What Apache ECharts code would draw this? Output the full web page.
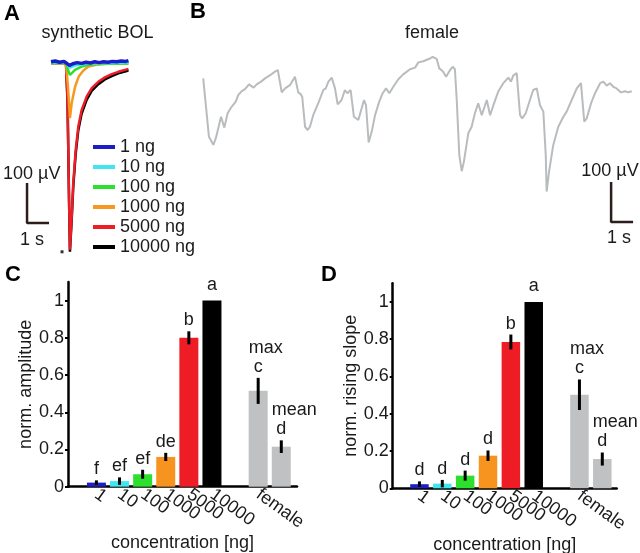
<!DOCTYPE html>
<html><head><meta charset="utf-8">
<script src="https://cdn.jsdelivr.net/npm/echarts@6/dist/echarts.min.js"></script>
<style>html,body{margin:0;padding:0;background:#fff}#c{width:640px;height:553px}</style>
</head><body><div id="c"></div>
<script>
const FONT = '"Liberation Sans", Arial, sans-serif';
const TXT = '#1a1a1a';

// ---------- Panel A: synthetic BOL traces (time s, amplitude µV) ----------
const doseNames = ['1 ng', '10 ng', '100 ng', '1000 ng', '5000 ng', '10000 ng'];
const doseColors = ['#1c1cc8', '#3fe6f0', '#2ee02e', '#f7981f', '#ee1c24', '#000000'];
const trace1ng = [[1.41,3],[1.6,5],[1.8,2],[2.0,4],[2.09,3],[2.25,-6],[2.4,-2],[2.6,1],[2.8,-1],[3.0,2],[3.2,0],[3.4,3],[3.6,1],[3.8,3],[4.0,2],[4.2,4],[4.4,3],[4.6,5],[4.8,4],[4.93,6]];
const trace10ng = [[1.41,2],[2.09,2],[2.25,-12],[2.5,-6],[3.0,-2],[4.0,0],[4.93,1]];
const trace100ng = [[1.41,0],[2.09,0],[2.2,-20],[2.27,-30],[2.5,-17],[2.8,-9],[3.2,-4],[4.0,-2],[4.93,-1]];
const trace1000ng = [[1.41,0],[2.09,0],[2.18,-60],[2.27,-138],[2.35,-100],[2.51,-58],[2.67,-34],[2.88,-19],[3.11,-9],[3.5,-4],[4.0,-2],[4.93,-1]];
const trace5000ng = [[1.41,0],[2.09,0],[2.16,-92],[2.23,-342],[2.27,-467],[2.35,-384],[2.42,-301],[2.53,-218],[2.65,-159],[2.80,-118],[3.03,-84],[3.26,-63],[3.56,-47],[3.86,-36],[4.17,-28],[4.47,-22],[4.85,-16],[4.93,-15]];
const trace10000ng = [[1.41,0],[2.09,0],[2.16,-95],[2.23,-345],[2.27,-472],[2.35,-392],[2.42,-310],[2.53,-228],[2.65,-168],[2.80,-127],[3.03,-92],[3.26,-70],[3.56,-53],[3.86,-41],[4.17,-33],[4.47,-26],[4.85,-20],[4.93,-18]];
const stimulus = [[1.91, -472]];

// ---------- Panel B: female trace ----------
const femaleT = [0.01,0.27,0.36,0.47,0.58,0.82,0.97,1.12,1.30,1.49,1.60,1.76,1.91,2.09,2.18,2.30,2.44,2.64,2.82,3.05,3.27,3.40,3.45,3.58,3.65,3.73,3.95,4.18,4.26,4.33,4.45,4.51,4.64,4.76,4.86,5.01,5.24,5.47,5.58,5.70,5.85,5.92,6.00,6.12,6.30,6.45,6.56,6.71,6.86,6.95,7.06,7.17,7.32,7.41,7.53,7.67,7.82,8.01,8.17,8.32,8.47,8.65,8.88,9.10,9.41,9.64,9.79,10.01,10.29,10.44,10.62,10.74,10.90,11.05,11.23,11.35,11.45,11.53,11.65,11.76,11.86,12.06,12.21,12.36,12.51,12.67,12.90,13.05,13.20,13.42,13.65,13.88,14.00,14.10,14.26,14.33,14.41,14.51,14.67,14.86,15.01,15.17,15.32,15.47,15.58,15.62,15.73,15.92,16.15,16.38,16.53,16.76,16.99,17.18,17.24,17.33,17.44,17.64,17.82,18.05,18.20,18.35,18.50,18.65,18.80,19.00,19.18,19.33,19.49];
const femaleV = [-46,-192,-196,-212,-196,-142,-169,-133,-117,-104,-88,-78,-73,-61,-58,-69,-61,-54,-46,-38,-29,-25,-29,-81,-83,-71,-63,-42,-46,-81,-86,-92,-167,-175,-167,-138,-108,-75,-71,-54,-44,-46,-71,-111,-100,-75,-83,-75,-142,-144,-150,-129,-100,-113,-206,-179,-138,-104,-83,-71,-83,-67,-48,-36,-23,-19,-6,-3,3,8,3,-21,-28,-42,-25,-17,-23,-96,-238,-278,-254,-183,-167,-133,-108,-138,-100,-138,-113,-79,-58,-44,-54,-39,-33,-33,-138,-146,-133,-100,-75,-71,-113,-129,-238,-329,-279,-213,-167,-142,-129,-100,-71,-58,-53,-154,-146,-108,-83,-58,-54,-64,-58,-67,-71,-81,-78,-81,-78];

// scale bars: 1 s x 100 µV
const SCALE_T = 1, SCALE_V = 100;
const scaleA = [0.32, -400];   // corner (time, amplitude)
const scaleB = [18.55, -405];

// ---------- Panels C & D: bars ----------
const barNames = ['1', '10', '100', '1000', '5000', '10000', 'female max', 'female mean'];
const xTickLabels = ['1', '10', '100', '1000', '5000', '10000', 'female'];
const barColors = ['#1f1fbf', '#3fe6f0', '#2ee02e', '#f7941f', '#ee1c24', '#000000', '#bfc1c3', '#bfc1c3'];
const ampValues = [0.022, 0.03, 0.067, 0.16, 0.80, 1.0, 0.515, 0.215];
const ampErrors = [0.012, 0.02, 0.024, 0.022, 0.035, 0, 0.07, 0.034];
const ampLetters = ['f', 'ef', 'ef', 'de', 'b', 'a', 'c', 'd'];
const slopeValues = [0.022, 0.025, 0.068, 0.175, 0.785, 1.0, 0.502, 0.157];
const slopeErrors = [0.015, 0.02, 0.027, 0.028, 0.04, 0, 0.082, 0.035];
const slopeLetters = ['d', 'd', 'd', 'd', 'b', 'a', 'c', 'd'];
const femaleTags = ['', '', '', '', '', '', 'max', 'mean'];
const yTicks = [0, 0.2, 0.4, 0.6, 0.8, 1];

// layout: slot index of each bar along the x axis (gap before female bars)
const slots = [0, 1, 2, 3, 4, 5, 7, 8];
const tickSlots = [0, 1, 2, 3, 4, 5, 7];

const chart = echarts.init(document.getElementById('c'), null, {renderer: 'canvas'});

function barAxisX(idx, min, max) {
  return {
    type: 'value', gridIndex: idx, min: min, max: max,
    axisLine: {show: true, onZero: false, lineStyle: {color: '#000', width: 2.5}},
    axisTick: {show: false},
    splitLine: {show: false},
    axisLabel: {
      customValues: tickSlots, rotate: -36, margin: 6,
      fontSize: 18, fontFamily: FONT, color: TXT,
      formatter: v => xTickLabels[tickSlots.indexOf(Math.round(v))] || ''
    },
    name: 'concentration [ng]', nameLocation: 'middle', nameGap: 47,
    nameTextStyle: {fontSize: 18, fontFamily: FONT, color: TXT}
  };
}
function barAxisY(idx, name, gap) {
  return {
    type: 'value', gridIndex: idx, min: 0, max: 1.1,
    axisLine: {show: true, onZero: false, lineStyle: {color: '#000', width: 2.5}},
    axisTick: {show: true, customValues: yTicks, length: 3, lineStyle: {color: '#000', width: 2}},
    splitLine: {show: false},
    axisLabel: {customValues: yTicks, margin: 4, fontSize: 18, fontFamily: FONT, color: TXT},
    name: name, nameLocation: 'middle', nameGap: gap, nameRotate: 90,
    nameTextStyle: {fontSize: 18, fontFamily: FONT, color: TXT}
  };
}
function barSeries(idx, values, width) {
  return {
    type: 'bar', xAxisIndex: idx, yAxisIndex: idx, barWidth: width,
    data: values.map((v, i) => ({name: barNames[i], value: [slots[i], v], itemStyle: {color: barColors[i]}})),
    silent: true
  };
}
function errSeries(idx, values, errs) {
  return {
    type: 'custom', xAxisIndex: idx, yAxisIndex: idx, silent: true, z: 5, clip: false,
    data: values.map((v, i) => [slots[i], v, errs[i]]),
    renderItem: (params, api) => {
      const x = api.value(0), y = api.value(1), e = api.value(2);
      if (!e) return null;
      const p1 = api.coord([x, y - e]), p2 = api.coord([x, y + e]);
      return {type: 'line', shape: {x1: p1[0], y1: p1[1], x2: p2[0], y2: p2[1]},
              style: {stroke: '#000', lineWidth: 3}};
    }
  };
}
function letterSeries(idx, values, errs, letters) {
  return {
    type: 'custom', xAxisIndex: idx, yAxisIndex: idx, silent: true, z: 6, clip: false,
    data: values.map((v, i) => [slots[i], v, errs[i]]),
    renderItem: (params, api) => {
      const i = params.dataIndex;
      const x = api.value(0), y = api.value(1), e = api.value(2);
      const p = api.coord([x, y + e]);
      const base = p[1] - (e ? 2 : 7);
      const children = [{type: 'text', x: p[0], y: base,
        style: {text: letters[i], fontSize: 18, fontFamily: FONT, fill: TXT, align: 'center', verticalAlign: 'bottom'}}];
      if (femaleTags[i]) {
        children.push({type: 'text', x: p[0] - 9.5, y: base - 19,
          style: {text: femaleTags[i], fontSize: 18, fontFamily: FONT, fill: TXT, align: 'left', verticalAlign: 'bottom'}});
      }
      return {type: 'group', children: children};
    }
  };
}

function traceSeries(name, data, color, width) {
  return {type: 'line', name: name, xAxisIndex: 0, yAxisIndex: 0, data: data, color: color,
          showSymbol: false, symbol: 'none', lineStyle: {color: color, width: width}, silent: true};
}
function scaleSeries(idx, corner) {
  return {type: 'line', xAxisIndex: idx, yAxisIndex: idx, showSymbol: false, symbol: 'none', silent: true,
          data: [[corner[0], corner[1] + SCALE_V], [corner[0], corner[1]], [corner[0] + SCALE_T, corner[1]]],
          lineStyle: {color: '#2b1d1b', width: 2.5}};
}

const gridBase = {containLabel: false, outerBoundsMode: 'none'};
const option = {
  animation: false,
  backgroundColor: '#fff',
  grid: [
    Object.assign({left: 20, top: 43, width: 121, height: 220}, gridBase),
    Object.assign({left: 203, top: 40, width: 440, height: 200}, gridBase),
    Object.assign({left: 68, top: 282, width: 229, height: 204.7}, gridBase),
    Object.assign({left: 392.7, top: 283.3, width: 224, height: 205}, gridBase)
  ],
  xAxis: [
    {type: 'value', gridIndex: 0, min: 0, max: 5.5, show: false},
    {type: 'value', gridIndex: 1, min: 0, max: 20, show: false},
    barAxisX(2, -1.23, 8.68),
    barAxisX(3, -1.17, 8.63)
  ],
  yAxis: [
    {type: 'value', gridIndex: 0, min: -500, max: 50, show: false},
    {type: 'value', gridIndex: 1, min: -450, max: 50, show: false},
    barAxisY(2, 'norm. amplitude', 27),
    barAxisY(3, 'norm. rising slope', 33)
  ],
  legend: {
    data: doseNames, orient: 'vertical', left: 88, top: 132,
    icon: 'rect', itemWidth: 22, itemHeight: 4, itemGap: 0,
    textStyle: {fontSize: 18, fontFamily: FONT, color: TXT, lineHeight: 20},
    selectedMode: false
  },
  series: [
    traceSeries(doseNames[5], trace10000ng, doseColors[5], 2.5),
    traceSeries(doseNames[4], trace5000ng, doseColors[4], 2.5),
    traceSeries(doseNames[3], trace1000ng, doseColors[3], 2.5),
    traceSeries(doseNames[2], trace100ng, doseColors[2], 2.5),
    traceSeries(doseNames[1], trace10ng, doseColors[1], 2.5),
    traceSeries(doseNames[0], trace1ng, doseColors[0], 3.5),
    {type: 'scatter', xAxisIndex: 0, yAxisIndex: 0, data: stimulus, symbol: 'rect', symbolSize: 3,
     itemStyle: {color: '#000'}, silent: true},
    scaleSeries(0, scaleA),
    {type: 'line', xAxisIndex: 1, yAxisIndex: 1, showSymbol: false, symbol: 'none', silent: true,
     data: femaleT.map((t, i) => [t, femaleV[i]]), lineStyle: {color: '#b9bcbe', width: 2}},
    scaleSeries(1, scaleB),
    barSeries(2, ampValues, 19),
    errSeries(2, ampValues, ampErrors),
    letterSeries(2, ampValues, ampErrors, ampLetters),
    barSeries(3, slopeValues, 18.5),
    errSeries(3, slopeValues, slopeErrors),
    letterSeries(3, slopeValues, slopeErrors, slopeLetters)
  ],
  graphic: [
    {type: 'text', left: 4, top: 3, style: {text: 'A', font: 'bold 22px ' + FONT, fill: '#000'}},
    {type: 'text', left: 190, top: 1, style: {text: 'B', font: 'bold 22px ' + FONT, fill: '#000'}},
    {type: 'text', left: 5, top: 264, style: {text: 'C', font: 'bold 22px ' + FONT, fill: '#000'}},
    {type: 'text', left: 321, top: 264, style: {text: 'D', font: 'bold 22px ' + FONT, fill: '#000'}},
    {type: 'text', x: 97.5, y: 33, style: {text: 'synthetic BOL', font: '18px ' + FONT, fill: TXT, align: 'center', verticalAlign: 'middle'}},
    {type: 'text', x: 432, y: 33, style: {text: 'female', font: '18px ' + FONT, fill: TXT, align: 'center', verticalAlign: 'middle'}},
    {type: 'text', x: 31.7, y: 174, style: {text: '100 \u00b5V', font: '18px ' + FONT, fill: TXT, align: 'center', verticalAlign: 'middle'}},
    {type: 'text', x: 32, y: 240, style: {text: '1 s', font: '18px ' + FONT, fill: TXT, align: 'center', verticalAlign: 'middle'}},
    {type: 'text', x: 610, y: 171, style: {text: '100 \u00b5V', font: '18px ' + FONT, fill: TXT, align: 'center', verticalAlign: 'middle'}},
    {type: 'text', x: 619, y: 238, style: {text: '1 s', font: '18px ' + FONT, fill: TXT, align: 'center', verticalAlign: 'middle'}}
  ]
};
chart.setOption(option);
</script>
</body></html>
